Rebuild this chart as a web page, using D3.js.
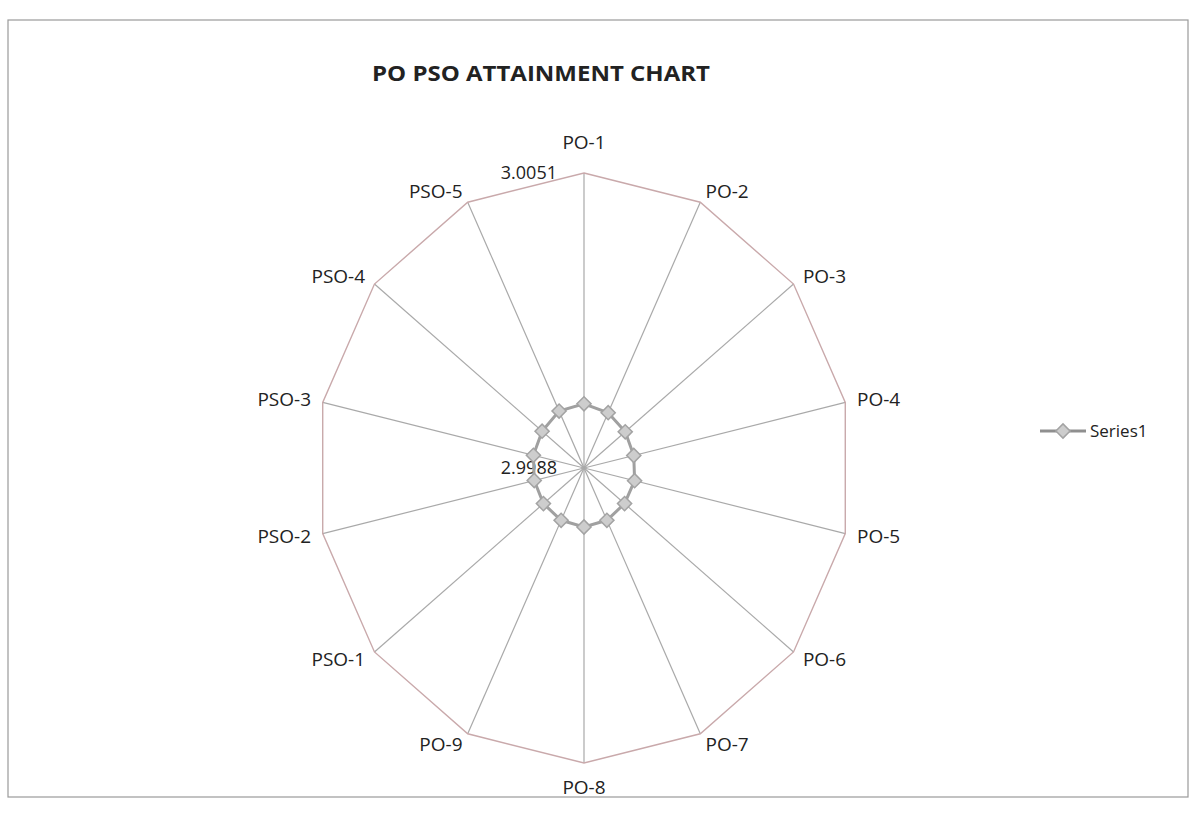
<!DOCTYPE html>
<html>
 <head>
  <title>PO PSO Attainment</title>
  <script src="https://d3js.org/d3.v7.min.js"></script>
 </head>
<body style="margin:0;background:#fff">
<style>
 text { font-family: "Open Sans", "Noto Sans", sans-serif; fill: #222; }
</style>
<svg width="1195" height="824"></svg>
<script>
// data
var categories = ["PO-1","PO-2","PO-3","PO-4","PO-5","PO-6","PO-7","PO-8","PO-9","PSO-1","PSO-2","PSO-3","PSO-4","PSO-5"];
var series1 = [3.00017, 3.00011, 3.00004, 3.00000, 3.00002, 3.00002, 3.00004, 3.00006, 3.00004, 3.00002, 3.00000, 3.00002, 3.00006, 3.00015];
var axisMin = 2.9988, axisMax = 3.0051;
var axisLabels = ["2.9988", "3.0051"];

var svg = d3.select("svg");

// chart frame
svg.append("rect").attr("x", 8).attr("y", 20).attr("width", 1180).attr("height", 777)
  .attr("fill", "none").attr("stroke", "#9a9a9a").attr("stroke-width", 1.2);

svg.append("text").attr("x", 372).attr("y", 81).text("PO PSO ATTAINMENT CHART")
  .style("font-size", "21px").style("font-weight", "bold")
  .attr("textLength", 338).attr("lengthAdjust", "spacingAndGlyphs");

var cx = 584, cy = 468, rx = 268, ry = 295;
var r = d3.scaleLinear().domain([axisMin, axisMax]).range([0, 1]);
var ang = d3.scaleLinear().domain([0, categories.length]).range([0, 2 * Math.PI]);

function px(i, v) { return cx + r(v) * rx * Math.sin(ang(i)); }
function py(i, v) { return cy - r(v) * ry * Math.cos(ang(i)); }

// spokes
svg.selectAll(".spoke").data(categories).enter().append("line")
  .attr("x1", cx).attr("y1", cy)
  .attr("x2", function(d, i){ return px(i, axisMax); })
  .attr("y2", function(d, i){ return py(i, axisMax); })
  .attr("stroke", "#a9a9a9").attr("stroke-width", 1.2);

// outer ring
svg.append("path")
  .attr("d", "M" + categories.map(function(d, i){ return px(i, axisMax) + "," + py(i, axisMax); }).join("L") + "Z")
  .attr("fill", "none").attr("stroke", "#c9a9ab").attr("stroke-width", 1.4);

// category labels
svg.selectAll(".cat").data(categories).enter().append("text")
  .attr("x", function(d, i){ return cx + (rx + 12) * Math.sin(ang(i)); })
  .attr("y", function(d, i){
     var c = Math.cos(ang(i)), s = Math.sin(ang(i));
     var y = cy - (ry + 12) * c;
     if (Math.abs(s) < 0.1) y += c > 0 ? -19 : 12;
     return y;
  })
  .attr("dy", "0.35em")
  .attr("text-anchor", function(d, i){
     var s = Math.sin(ang(i));
     return s > 0.1 ? "start" : (s < -0.1 ? "end" : "middle");
  })
  .style("font-size", "19px")
  .text(function(d){ return d; });

// value axis labels
svg.selectAll(".ax").data([axisMin, axisMax]).enter().append("text")
  .attr("x", cx - 27)
  .attr("y", function(d){ return py(0, d); })
  .attr("dy", "0.35em").attr("text-anchor", "end")
  .style("font-size", "18px")
  .text(function(d, i){ return axisLabels[i]; });

// series line
var line = d3.line()
  .x(function(d, i){ return px(i, d); })
  .y(function(d, i){ return py(i, d); })
  .curve(d3.curveLinearClosed);
svg.append("path").datum(series1).attr("d", line)
  .attr("fill", "none").attr("stroke", "#a0a0a0").attr("stroke-width", 3);

// excel style diamond: square turned 45 degrees
var diamond = d3.symbol().type(d3.symbolSquare).size(100);
svg.selectAll(".mk").data(series1).enter().append("path")
  .attr("d", diamond)
  .attr("transform", function(d, i){ return "translate(" + px(i, d) + "," + py(i, d) + ") rotate(45)"; })
  .attr("fill", "#cdcdcd").attr("stroke", "#a3a3a3").attr("stroke-width", 1.5);

// legend
var lg = svg.append("g").attr("transform", "translate(1040,431)");
lg.append("line").attr("x1", 0).attr("x2", 46).attr("y1", 0).attr("y2", 0)
  .attr("stroke", "#8f8f8f").attr("stroke-width", 3);
lg.append("path").attr("d", diamond).attr("transform", "translate(23,0) rotate(45)")
  .attr("fill", "#cdcdcd").attr("stroke", "#a3a3a3").attr("stroke-width", 1.5);
lg.append("text").attr("x", 50).attr("y", 0).attr("dy", "0.35em")
  .style("font-size", "17px").text("Series1");
</script>
</body>
</html>
